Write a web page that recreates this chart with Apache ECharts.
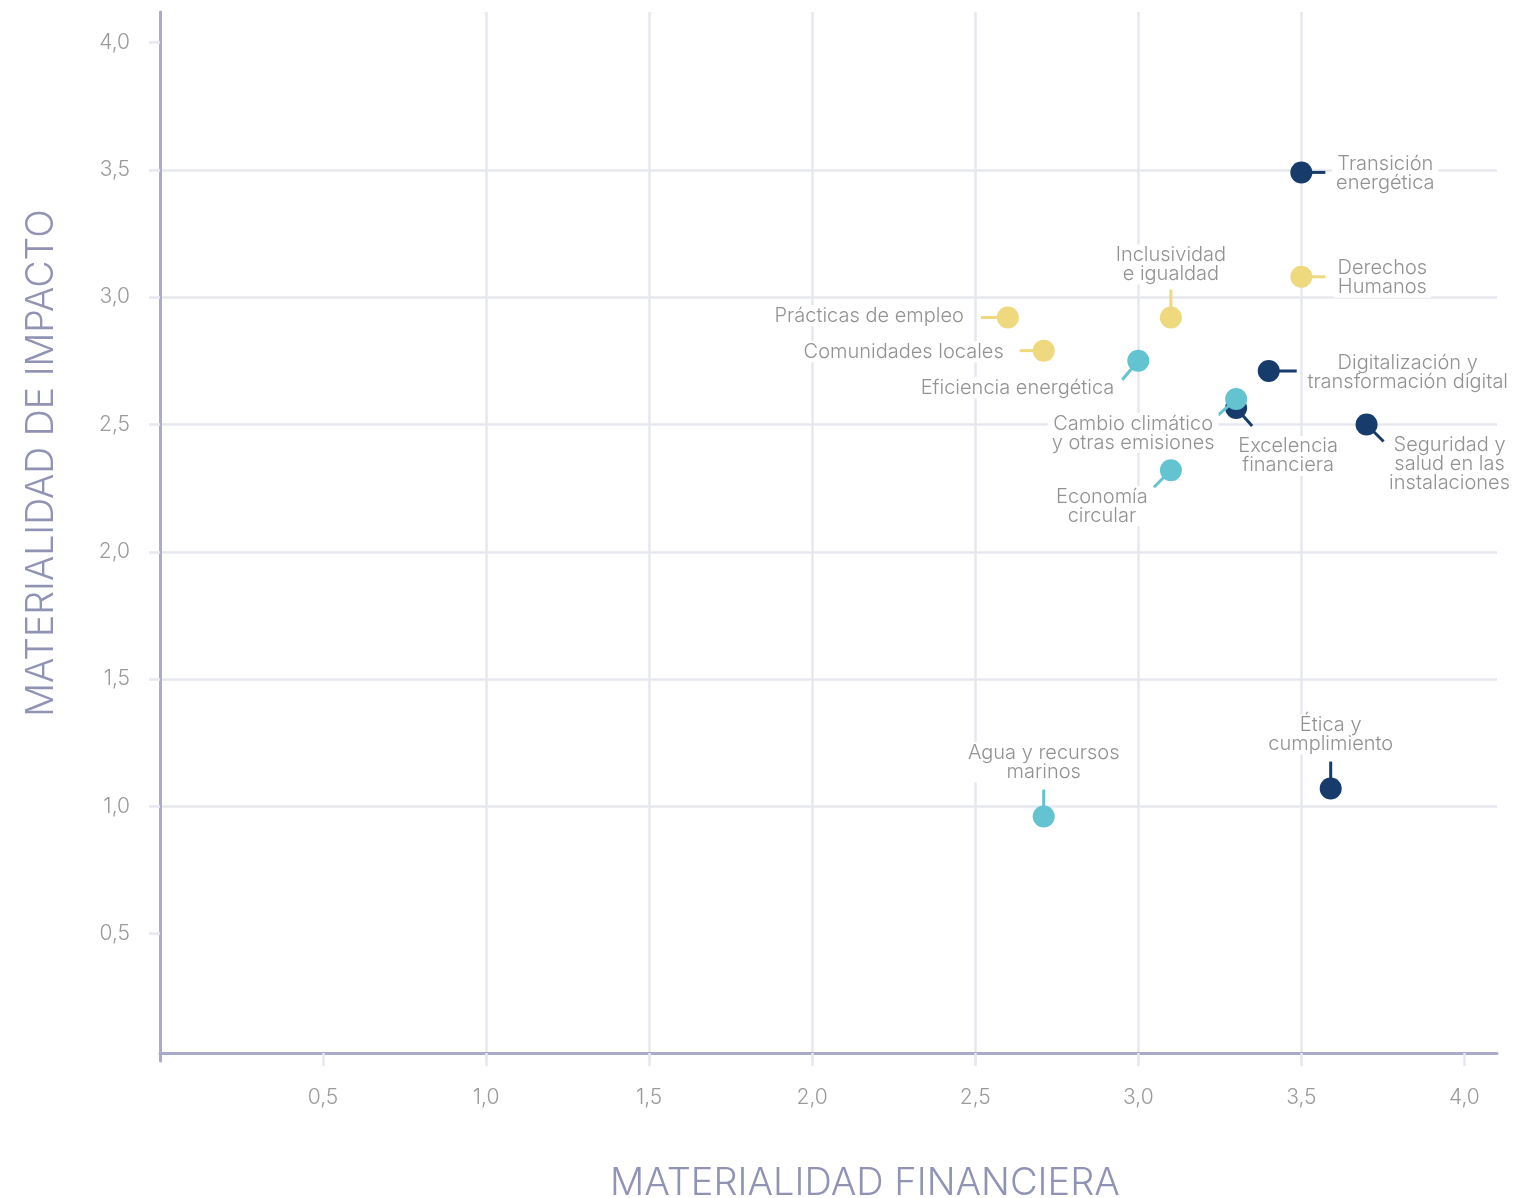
<!DOCTYPE html>
<html lang="es">
<head>
<meta charset="utf-8">
<title>Matriz de materialidad</title>
<script src="https://cdn.jsdelivr.net/npm/echarts@6/dist/echarts.min.js"></script>
<style>
  html, body { margin: 0; padding: 0; background: #ffffff; }
  #chart { width: 1536px; height: 1198px; }
</style>
</head>
<body>
<div id="chart"></div>
<script>
// Temas materiales y sus puntuaciones
const temas = [
  'Transición\nenergética',
  'Derechos\nHumanos',
  'Inclusividad\ne igualdad',
  'Prácticas de empleo',
  'Comunidades locales',
  'Eficiencia energética',
  'Digitalización y\ntransformación digital',
  'Excelencia\nfinanciera',
  'Cambio climático\ny otras emisiones',
  'Seguridad y\nsalud en las\ninstalaciones',
  'Economía\ncircular',
  'Agua y recursos\nmarinos',
  'Ética y\ncumplimiento'
];
const financiera = [3.50, 3.50, 3.10, 2.60, 2.71, 3.00, 3.40, 3.30, 3.30, 3.70, 3.10, 2.71, 3.59];
const impacto    = [3.49, 3.08, 2.92, 2.92, 2.79, 2.75, 2.71, 2.565, 2.60, 2.50, 2.32, 0.96, 1.07];
// Grupo de cada tema: 0 = gobernanza/negocio, 1 = social, 2 = ambiental
const grupo      = [0, 1, 1, 1, 1, 2, 0, 0, 2, 0, 2, 2, 0];

const ticksX = [0.5, 1.0, 1.5, 2.0, 2.5, 3.0, 3.5, 4.0];
const ticksY = [0.5, 1.0, 1.5, 2.0, 2.5, 3.0, 3.5, 4.0];

// Estilo
const colores = ['#173b6b', '#efd97f', '#63c3d0'];
const colorEje = '#a9abc9';
const colorRejilla = '#e7e7f0';
const colorTexto = '#929292';
const colorTitulo = '#9193b4';
const fuente = 'Inter, "Open Sans", sans-serif';

// Guía (extremo del conector) y ancla de la etiqueta, en píxeles respecto al punto
const colocacion = [
  { guia: [24, 0],   texto: [84, 1],    align: 'center' },
  { guia: [24, 0],   texto: [81, 1],    align: 'center' },
  { guia: [0, -28],  texto: [0, -53],   align: 'center' },
  { guia: [-27, 0],  texto: [-40, -2],  align: 'right' },
  { guia: [-24, 0],  texto: [-36, 1],   align: 'right' },
  { guia: [-16, 19], texto: [-20, 27],  align: 'right' },
  { guia: [28, 0],   texto: [139, 1],   align: 'center' },
  { guia: [16, 18],  texto: [52, 48],   align: 'center' },
  { guia: [-18, 16], texto: [-103, 34], align: 'center' },
  { guia: [17, 17],  texto: [83, 40],   align: 'center' },
  { guia: [-17, 17], texto: [-69, 36],  align: 'center' },
  { guia: [0, -27],  texto: [0, -54],   align: 'center' },
  { guia: [0, -27],  texto: [0, -54],   align: 'center' }
];

const coma = v => v.toFixed(1).replace('.', ',');

const chart = echarts.init(document.getElementById('chart'), null, { renderer: 'canvas' });

chart.setOption({
  backgroundColor: '#ffffff',
  animation: false,
  grid: { left: 160, right: 39, top: 12, bottom: 137, containLabel: false },
  xAxis: {
    type: 'value',
    min: 0,
    max: 4.1,
    interval: 0.5,
    offset: -8,
    axisLine: { show: true, onZero: false, lineStyle: { color: colorEje, width: 3 } },
    axisTick: {
      show: true, inside: false, length: 13, customValues: ticksX,
      lineStyle: { color: colorRejilla, width: 2.5 }
    },
    axisLabel: {
      customValues: ticksX, margin: 34, color: '#9a9a9a',
      fontFamily: fuente, fontWeight: 300, fontSize: 21, formatter: coma
    },
    splitLine: {
      show: true, showMinLine: false, showMaxLine: false,
      lineStyle: { color: colorRejilla, width: 2.5 }
    }
  },
  yAxis: {
    type: 'value',
    min: 0,
    max: 4.12,
    interval: 0.5,
    axisLine: { show: true, onZero: false, lineStyle: { color: colorEje, width: 3 } },
    axisTick: {
      show: true, inside: false, length: 11, customValues: ticksY,
      lineStyle: { color: colorRejilla, width: 2.5 }
    },
    axisLabel: {
      customValues: ticksY, margin: 30, color: '#9a9a9a',
      fontFamily: fuente, fontWeight: 300, fontSize: 21, formatter: coma
    },
    splitLine: {
      show: true, showMinLine: false, showMaxLine: false,
      lineStyle: { color: colorRejilla, width: 2.5 }
    }
  },
  graphic: [
    {
      type: 'text', x: 42, y: 463, rotation: Math.PI / 2,
      style: {
        text: 'MATERIALIDAD DE IMPACTO', fill: colorTitulo,
        fontFamily: fuente, fontWeight: 300, fontSize: 37.5,
        align: 'center', verticalAlign: 'middle'
      }
    },
    {
      type: 'text', x: 865, y: 1184,
      style: {
        text: 'MATERIALIDAD FINANCIERA', fill: colorTitulo,
        fontFamily: fuente, fontWeight: 300, fontSize: 38,
        align: 'center', verticalAlign: 'middle'
      }
    }
  ],
  series: [{
    type: 'custom',
    coordinateSystem: 'cartesian2d',
    clip: false,
    data: temas.map((t, i) => [financiera[i], impacto[i], i]),
    encode: { x: 0, y: 1 },
    renderItem: function (params, api) {
      const i = api.value(2);
      const p = api.coord([api.value(0), api.value(1)]);
      const c = colores[grupo[i]];
      const pos = colocacion[i];
      return {
        type: 'group',
        children: [
          {
            type: 'line',
            shape: { x1: p[0], y1: p[1], x2: p[0] + pos.guia[0], y2: p[1] + pos.guia[1] },
            style: { stroke: c, lineWidth: 3 }
          },
          {
            type: 'circle',
            shape: { cx: p[0], cy: p[1], r: 11 },
            style: { fill: c }
          },
          {
            type: 'text',
            x: p[0] + pos.texto[0],
            y: p[1] + pos.texto[1],
            style: {
              text: temas[i], fill: colorTexto,
              fontFamily: fuente, fontWeight: 300, fontSize: 20, lineHeight: 19,
              align: pos.align, verticalAlign: 'middle',
              backgroundColor: '#ffffff', padding: [1, 4]
            }
          }
        ]
      };
    }
  }]
});
</script>
</body>
</html>
